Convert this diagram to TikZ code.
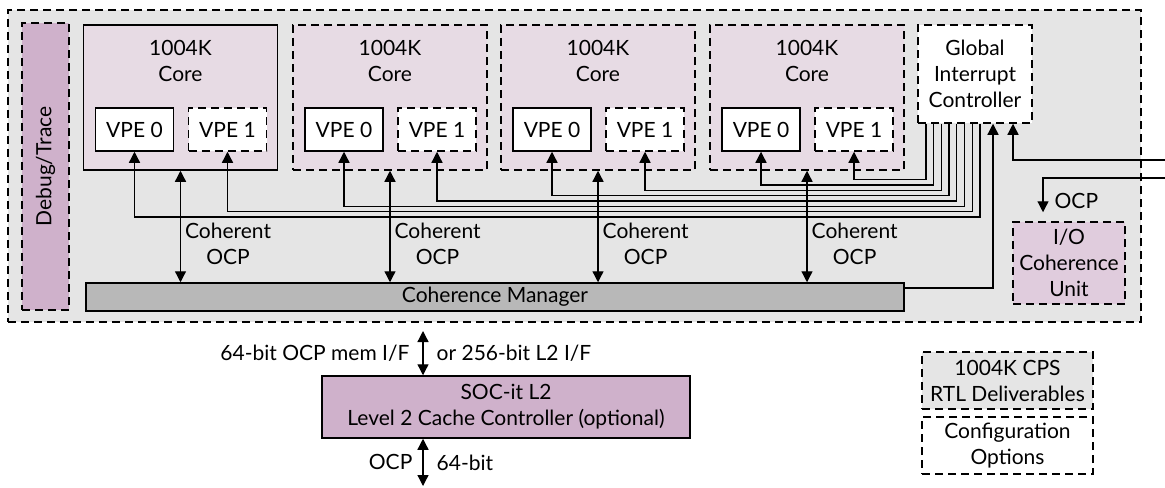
\documentclass[tikz,border=0pt]{standalone}
\usepackage{fontspec}
\setmainfont{Lato}
\usetikzlibrary{arrows.meta,positioning}
\definecolor{corefill}{RGB}{231,219,228}
\definecolor{mauve}{RGB}{207,177,203}
\definecolor{iofill}{RGB}{224,204,221}
\definecolor{cmfill}{RGB}{184,184,184}

\begin{document}
\begin{tikzpicture}[
    x=0.5pt, y=-0.5pt,
    box/.style={draw, line width=0.75pt, align=center, inner sep=1pt,
                font=\fontsize{10.5}{13}\selectfont},
    opt/.style={dash pattern=on 4pt off 2.5pt},
    core/.style={box, fill=corefill, minimum width=97pt, minimum height=72.5pt},
    vpe/.style={box, fill=white, minimum width=39pt, minimum height=21.5pt},
    title/.style={align=center, inner sep=0pt, font=\fontsize{10.5}{13}\selectfont},
    arrow/.style={-{Triangle[length=5.5pt,width=5.5pt]}, line width=0.65pt},
    dblarrow/.style={arrow, {Triangle[length=5.5pt,width=5.5pt]}-{Triangle[length=5.5pt,width=5.5pt]}},
    lbl/.style={font=\fontsize{10.5}{13}\selectfont, align=center, inner sep=2pt},
  ]
  \useasboundingbox (0,0) rectangle (1165,487);

  % CPS deliverables
  \node[box, opt, fill=black!10, minimum width=566.5pt, minimum height=156pt] (cps) at (574.5,166) {};
  \node[box, opt, fill=mauve, minimum width=23.5pt, minimum height=143.5pt] (debug) at (45.5,166.5) {};
  \node[title, rotate=90] (debugtxt) at (debug.center) {Debug/Trace};

  % Cores
  \node[core] (core1) at (180.5,97.5) {};
  \node[core, opt] (core2) at (390,97.5) {};
  \node[core, opt] (core3) at (598,97.5) {};
  \node[core, opt] (core4) at (807,97.5) {};
  \node[title, below=8pt of core1.north] (t1) {1004K\\Core};
  \node[title, below=8pt of core2.north] (t2) {1004K\\Core};
  \node[title, below=8pt of core3.north] (t3) {1004K\\Core};
  \node[title, below=8pt of core4.north] (t4) {1004K\\Core};

  \node[vpe] (c1v0) at (134.5,129.5) {VPE 0};
  \node[vpe, opt] (c1v1) at (227.5,129.5) {VPE 1};
  \node[vpe] (c2v0) at (344,129.5) {VPE 0};
  \node[vpe, opt] (c2v1) at (437,129.5) {VPE 1};
  \node[vpe] (c3v0) at (552,129.5) {VPE 0};
  \node[vpe, opt] (c3v1) at (645,129.5) {VPE 1};
  \node[vpe] (c4v0) at (761,129.5) {VPE 0};
  \node[vpe, opt] (c4v1) at (854,129.5) {VPE 1};

  \node[box, opt, fill=white, minimum width=57pt, minimum height=49pt] (gic) at (975,74) {Global\\Interrupt\\Controller};
  \node[box, fill=cmfill, minimum width=409pt, minimum height=14pt] (cm) at (495,297) {Coherence Manager};
  \node[box, opt, fill=iofill, minimum width=56pt, minimum height=41pt] (iocu) at (1069,263) {I/O\\Coherence\\Unit};

  % Interrupts
  \draw[arrow] ([xshift=-24.5pt]gic.south) -- ++(0,56) -| (c4v1.south);
  \draw[arrow] ([xshift=-20.65pt]gic.south) -- ++(0,61.3) -| (c4v0.south);
  \draw[arrow] ([xshift=-16.8pt]gic.south) -- ++(0,66.6) -| (c3v1.south);
  \draw[arrow] ([xshift=-12.95pt]gic.south) -- ++(0,71.9) -| (c3v0.south);
  \draw[arrow] ([xshift=-9.1pt]gic.south) -- ++(0,77.2) -| (c2v1.south);
  \draw[arrow] ([xshift=-5.25pt]gic.south) -- ++(0,82.5) -| (c2v0.south);
  \draw[arrow] ([xshift=-1.4pt]gic.south) -- ++(0,87.8) -| (c1v1.south);
  \draw[arrow] ([xshift=2.45pt]gic.south) -- ++(0,93.1) -| (c1v0.south);

  \draw[arrow] ([yshift=4.5pt]cm.east) -| ([xshift=9pt]gic.south);
  \coordinate (irqin) at (1165,160);
  \draw[arrow] (irqin) -| ([xshift=19pt]gic.south);
  \coordinate (ocpin) at (1165,178);
  \draw[arrow] (ocpin) -| ([xshift=-13pt,yshift=4.5pt]iocu.north) node[lbl, anchor=west, xshift=3.5pt, yshift=5.5pt] {OCP};

  % Coherent OCP
  \draw[dblarrow] (core1.south) -- (core1.south |- cm.north) node[lbl, pos=0.66, right] {Coherent\\OCP};
  \draw[dblarrow] (core2.south) -- (core2.south |- cm.north) node[lbl, pos=0.66, right] {Coherent\\OCP};
  \draw[dblarrow] (core3.south) -- (core3.south |- cm.north) node[lbl, pos=0.66, right] {Coherent\\OCP};
  \draw[dblarrow] (core4.south) -- (core4.south |- cm.north) node[lbl, pos=0.66, right] {Coherent\\OCP};

  % L2
  \node[box, fill=mauve, minimum width=184pt, minimum height=31pt] (soc) at (506,407) {SOC-it L2\\Level 2 Cache Controller (optional)};
  \coordinate (memif) at (423,331);
  \draw[dblarrow] (memif) -- (memif |- soc.north)
    node[lbl, midway, left=4.5pt] {64-bit OCP mem I/F}
    node[lbl, midway, right=4.5pt] {or 256-bit L2 I/F};
  \coordinate (memout) at (423,486);
  \draw[dblarrow] (memout |- soc.south) -- (memout)
    node[lbl, midway, left=3pt] {OCP}
    node[lbl, midway, right=4.5pt] {64-bit};

  % Legend
  \node[box, opt, fill=black!10, minimum width=85.5pt, minimum height=28.5pt] (rtl) at (1007.5,380.5) {1004K CPS\\RTL Deliverables};
  \node[box, opt, fill=white, minimum width=85.5pt, minimum height=28.5pt] (cfg) at (1007.5,445.5) {Configuration\\Options};
\end{tikzpicture}
\end{document}
